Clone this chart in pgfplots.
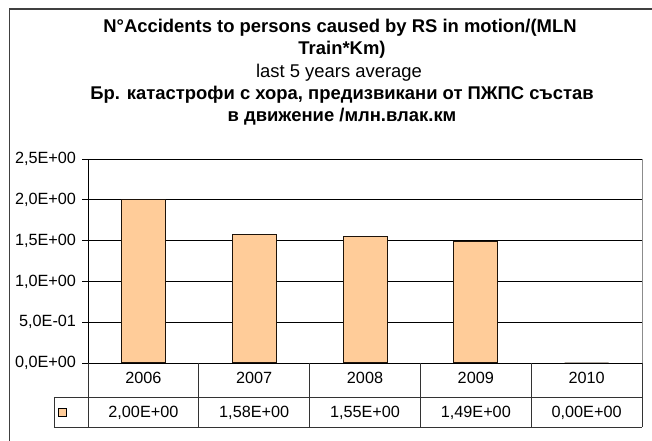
\documentclass[border=0pt]{standalone}
\usepackage{fontspec}
\setmainfont{Liberation Sans}
\usepackage{pgfplots}
\pgfplotsset{compat=1.18}
\definecolor{barfill}{RGB}{255,204,153}
\begin{document}
\begin{tikzpicture}[x=1bp,y=1bp]
\path[use as bounding box] (0,0) rectangle (652,441);
\draw[black!75, line width=1.4bp] (9.5,0) -- (9.5,432) -- (652,432);
\begin{scope}[every node/.style={font=\fontsize{18.5}{22}\selectfont, inner sep=0pt, anchor=base}]
\node at (340,408) {\bfseries N°Accidents to persons caused by RS in motion/(MLN};
\node at (342,386) {\bfseries Train*Km)};
\node at (339,363) {last 5 years average};
\node at (342,341) {\bfseries Бр. катастрофи с хора, предизвикани от ПЖПС състав};
\node at (342,319) {\bfseries в движение /млн.влак.км};
\end{scope}
\begin{axis}[
  at={(88bp,78bp)}, anchor=south west,
  scale only axis, width=554bp, height=204bp,
  xmin=-0.5, xmax=4.5, ymin=0, ymax=2.5,
  hide x axis,
  axis y line*=left,
  y axis line style={black, line width=0.8bp},
  ytick={0,0.5,1,1.5,2,2.5},
  yticklabels={{0,0E+00},{5,0E-01},{1,0E+00},{1,5E+00},{2,0E+00},{2,5E+00}},
  tick align=outside, major tick length=6bp,
  ytick style={black, line width=0.8bp},
  yticklabel style={font=\fontsize{16.3}{19}\selectfont, xshift=-2.5bp},
  ymajorgrids, grid style={black, line width=0.8bp},
  ybar, bar width=44bp,
  clip=false,
]
\addplot[fill=barfill, draw=black!85!brown, line width=1bp] coordinates {(0,2.00) (1,1.58) (2,1.55) (3,1.49) (4,0)};
% right border of plot area
\draw[black!45, line width=0.9bp] (axis cs:4.5,0) -- (axis cs:4.5,2.5);
% data table
\draw[black!80, line width=0.9bp] (axis cs:-0.5,-0.41667) -- (axis cs:4.5,-0.41667);
\draw[black!80, line width=0.9bp] (axis cs:-0.8069,-0.78431) -- (axis cs:4.5,-0.78431);
\draw[black!80, line width=0.9bp] (axis cs:-0.8069,-0.41667) -- (axis cs:-0.5,-0.41667);
\draw[black!80, line width=0.9bp] (axis cs:-0.8069,-0.41667) -- (axis cs:-0.8069,-0.78431);
\draw[black!80, line width=0.9bp] (axis cs:-0.5,0) -- (axis cs:-0.5,-0.78431);
\draw[black!80, line width=0.9bp] (axis cs:0.5,0) -- (axis cs:0.5,-0.78431);
\draw[black!80, line width=0.9bp] (axis cs:1.5,0) -- (axis cs:1.5,-0.78431);
\draw[black!80, line width=0.9bp] (axis cs:2.5,0) -- (axis cs:2.5,-0.78431);
\draw[black!80, line width=0.9bp] (axis cs:3.5,0) -- (axis cs:3.5,-0.78431);
\draw[black!80, line width=0.9bp] (axis cs:4.5,0) -- (axis cs:4.5,-0.78431);
\node[draw=black, line width=0.8bp, fill=barfill, minimum size=8bp, inner sep=0pt] at (axis cs:-0.7347,-0.6005) {};
\node[font=\fontsize{16.3}{19}\selectfont, inner sep=0pt, anchor=base] at (axis cs:0,-0.2574) {2006};
\node[font=\fontsize{16.3}{19}\selectfont, inner sep=0pt, anchor=base] at (axis cs:1,-0.2574) {2007};
\node[font=\fontsize{16.3}{19}\selectfont, inner sep=0pt, anchor=base] at (axis cs:2,-0.2574) {2008};
\node[font=\fontsize{16.3}{19}\selectfont, inner sep=0pt, anchor=base] at (axis cs:3,-0.2574) {2009};
\node[font=\fontsize{16.3}{19}\selectfont, inner sep=0pt, anchor=base] at (axis cs:4,-0.2574) {2010};
\node[font=\fontsize{16.3}{19}\selectfont, inner sep=0pt, anchor=base] at (axis cs:0,-0.674) {2,00E+00};
\node[font=\fontsize{16.3}{19}\selectfont, inner sep=0pt, anchor=base] at (axis cs:1,-0.674) {1,58E+00};
\node[font=\fontsize{16.3}{19}\selectfont, inner sep=0pt, anchor=base] at (axis cs:2,-0.674) {1,55E+00};
\node[font=\fontsize{16.3}{19}\selectfont, inner sep=0pt, anchor=base] at (axis cs:3,-0.674) {1,49E+00};
\node[font=\fontsize{16.3}{19}\selectfont, inner sep=0pt, anchor=base] at (axis cs:4,-0.674) {0,00E+00};
\end{axis}
\end{tikzpicture}
\end{document}
